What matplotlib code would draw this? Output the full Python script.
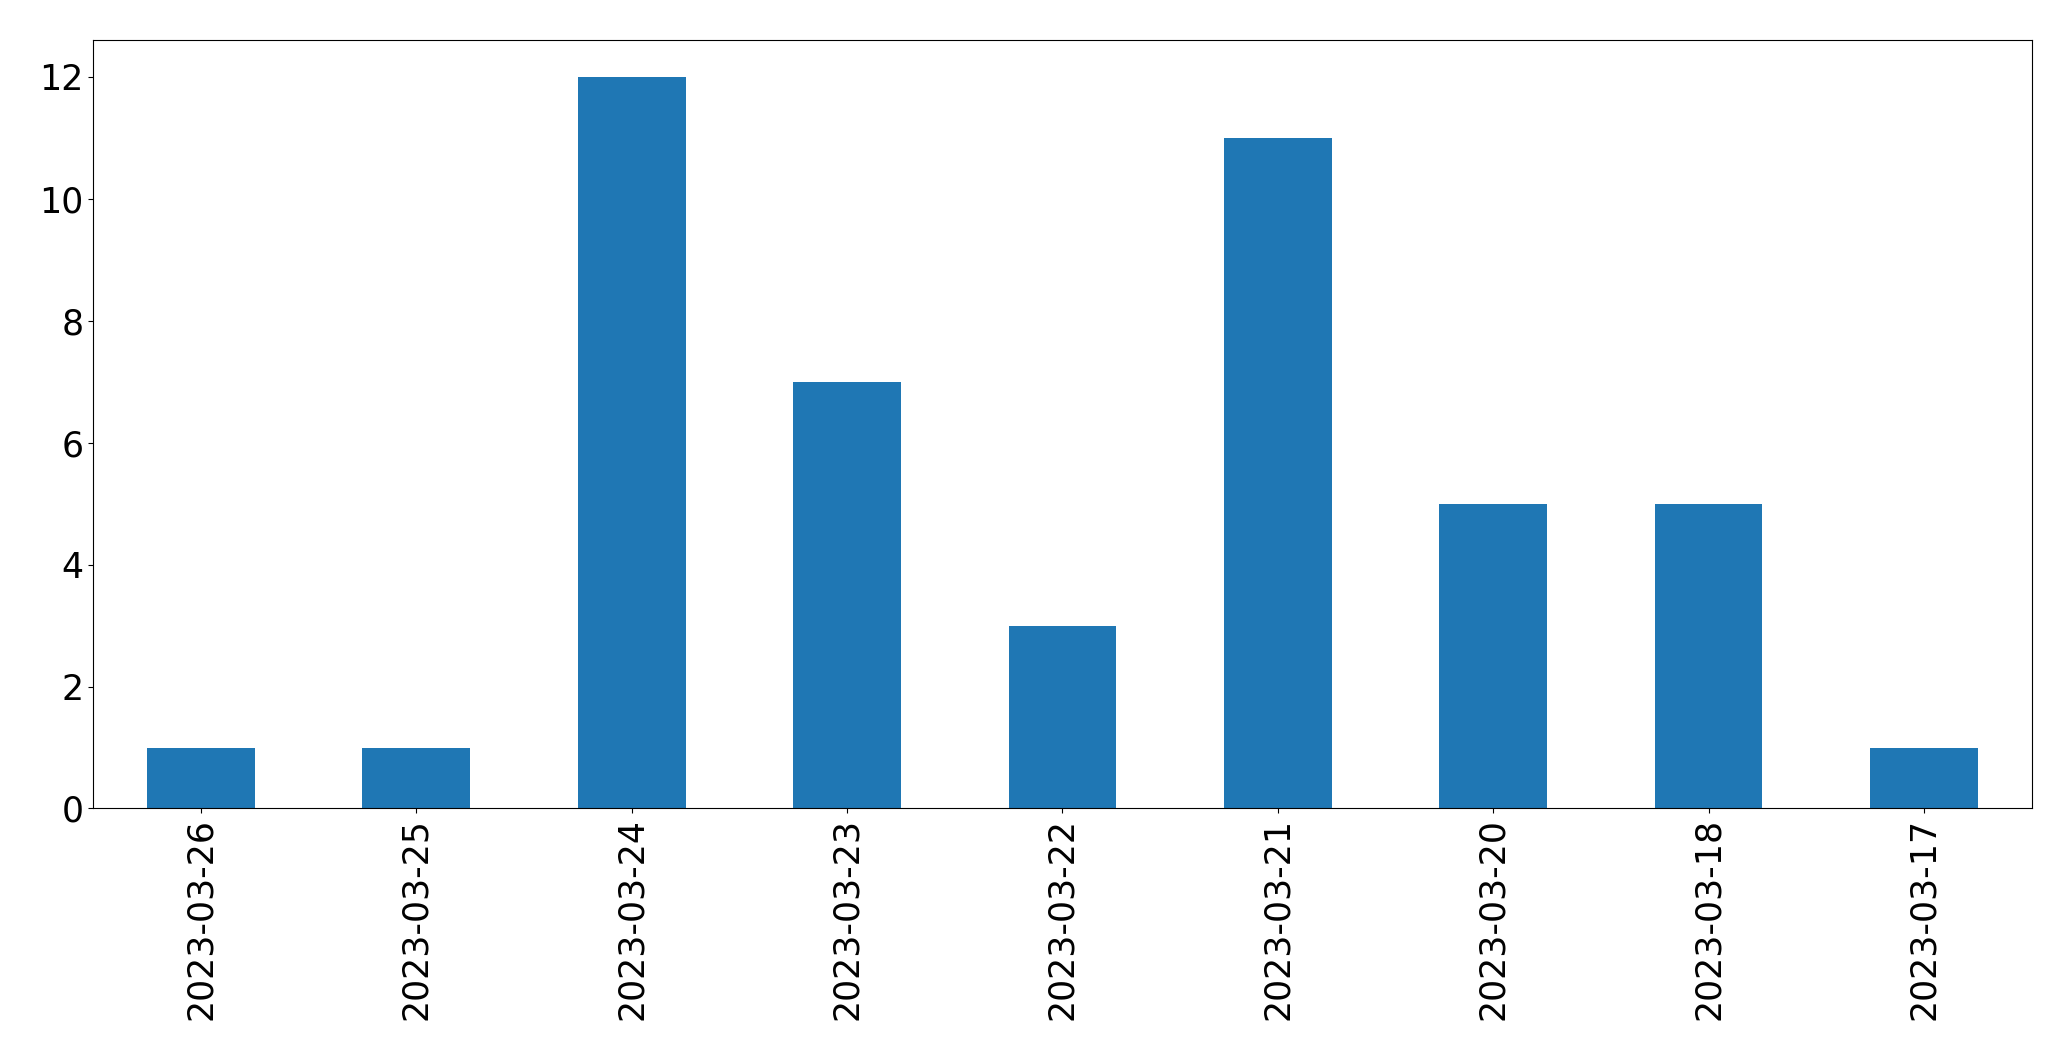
import matplotlib
matplotlib.use("Agg")
import matplotlib.pyplot as plt

dates = ["2023-03-26", "2023-03-25", "2023-03-24", "2023-03-23", "2023-03-22",
         "2023-03-21", "2023-03-20", "2023-03-18", "2023-03-17"]
counts = [1, 1, 12, 7, 3, 11, 5, 5, 1]

fig, ax = plt.subplots(figsize=(20.71, 10.61), dpi=100)
pos = range(len(dates))
ax.bar(pos, counts, width=0.5, color="#1f77b4")
ax.set_xlim(-0.5, len(dates) - 0.5)
ax.set_ylim(0, 12.6)
ax.set_xticks(list(pos))
ax.set_xticklabels(dates, rotation=90)
ax.tick_params(labelsize=25)
plt.subplots_adjust(left=0.045, right=0.981, top=0.962, bottom=0.238)
plt.savefig("out.png")
